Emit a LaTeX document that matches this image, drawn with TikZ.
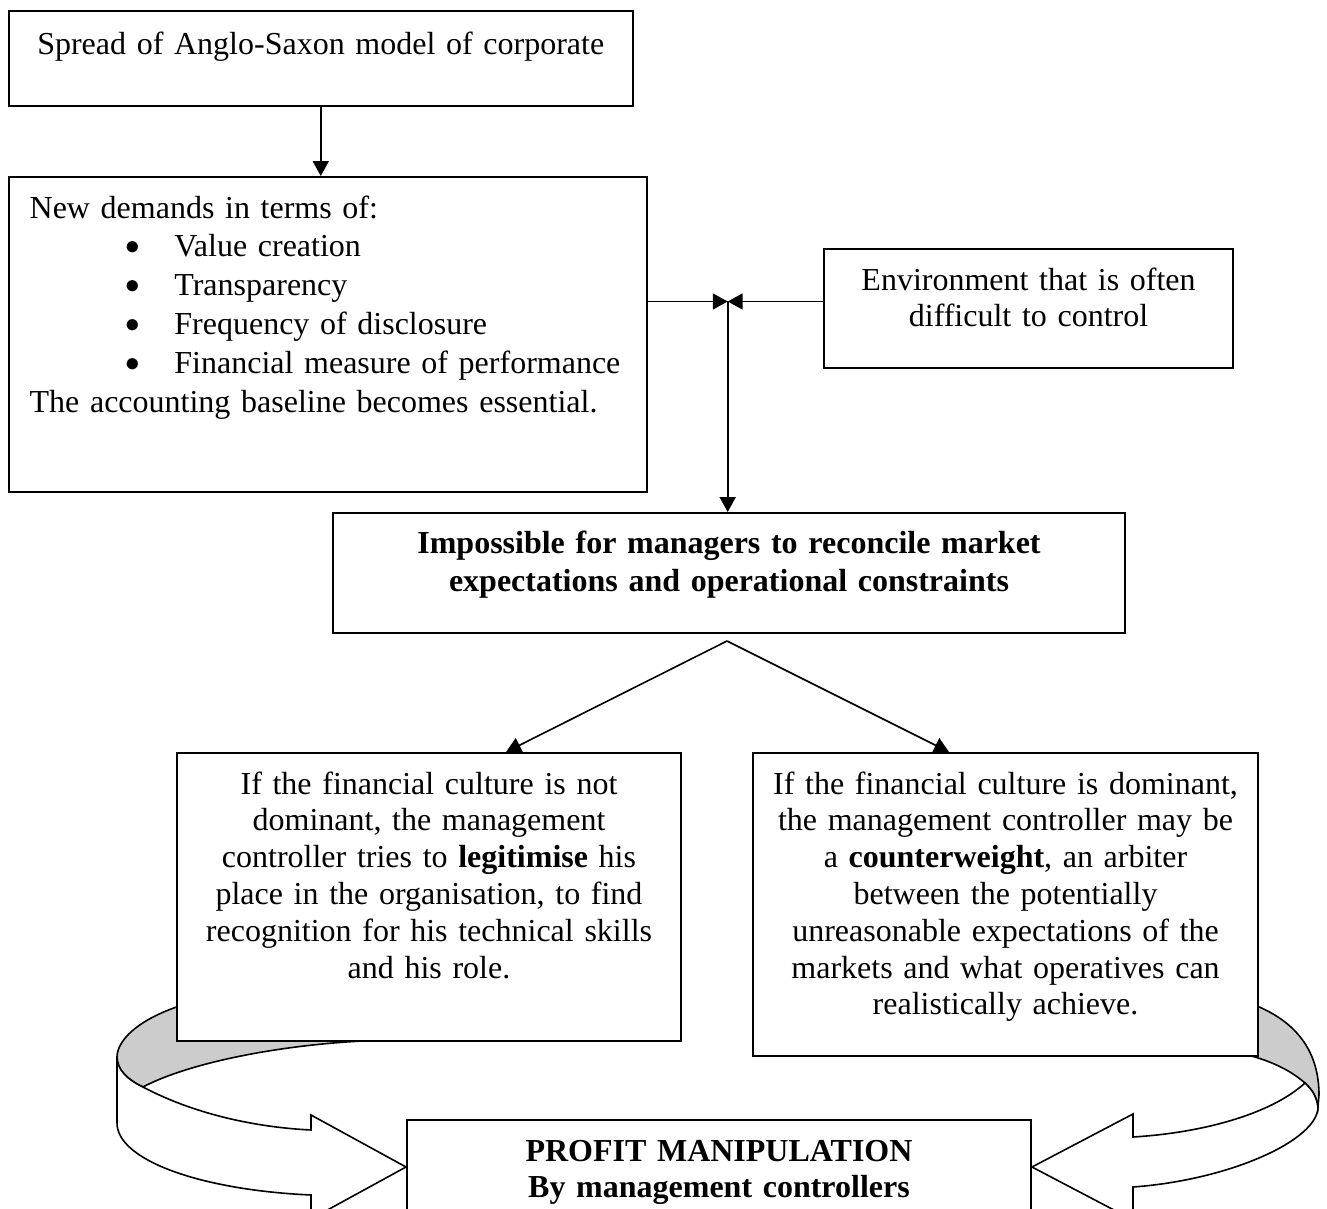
\documentclass[tikz,border=0pt]{standalone}
\usepackage{fontspec}
\setmainfont{Liberation Serif}
\usetikzlibrary{positioning,calc,arrows.meta,backgrounds}
\tikzset{wbox/.style={draw, line width=0.75pt, fill=white, inner sep=0pt, anchor=north west, align=center, font=\fontsize{12pt}{13.8pt}\selectfont}}
\tikzset{arr/.style={draw, line width=0.6pt, -{Triangle[length=5.6pt,width=6pt]}}}
\tikzset{band/.style={draw, line width=0.6pt, fill=white}}
\tikzset{bandshade/.style={band, fill=gray!40}}
\newcommand{\bitem}[1]{\hspace*{35.8pt}\raisebox{0.8pt}{\fontsize{10.5pt}{10.5pt}\selectfont$\bullet$}\hspace*{13pt}#1}

\begin{document}
\begin{tikzpicture}[x=0.375pt,y=-0.375pt]
	\useasboundingbox (0,0) rectangle (1327,1209);
	\node[wbox, text width=234.2pt, text height=16.2pt, text depth=19.45pt] (spread) at (7.5,10)
		{Spread of Anglo-Saxon model of corporate};
	\node[wbox, align=left, inner xsep=7.9pt, text width=223.5pt, text height=15.4pt, text depth=102.7pt,
		font=\fontsize{12pt}{14.6pt}\selectfont] (demands) at (7.6,176)
		{New demands in terms of:\\
		\bitem{Value creation}\\
		\bitem{Transparency}\\
		\bitem{Frequency of disclosure}\\
		\bitem{Financial measure of performance}\\
		The accounting baseline becomes essential.};
	\node[wbox, text width=153.4pt, text height=15.4pt, text depth=29.25pt] (env) at (823,248)
		{Environment that is often\\ difficult to control};
	\node[wbox, text width=297pt, text height=15pt, text depth=30pt,
		font=\fontsize{12pt}{14.5pt}\selectfont\bfseries] (imposs) at (332,512)
		{Impossible for managers to reconcile market\\ expectations and operational constraints};
	\node[wbox, text width=189pt, text height=15.4pt, text depth=92.6pt] (notdom) at (176,752)
		{If the financial culture is not\\ dominant, the management\\ controller tries to \textbf{legitimise} his\\
		place in the organisation, to find\\ recognition for his technical skills\\ and his role.};
	\node[wbox, text width=189.4pt, text height=15.4pt, text depth=98.3pt] (dom) at (752,752)
		{If the financial culture is dominant,\\ the management controller may be\\ a \textbf{counterweight}, an arbiter\\
		between the potentially\\ unreasonable expectations of the\\ markets and what operatives can\\ realistically achieve.};
	\node[wbox, text width=234pt, text height=15.4pt, text depth=37.5pt,
		font=\fontsize{12pt}{13.5pt}\selectfont\bfseries] (profit) at (406,1119)
		{PROFIT MANIPULATION\\ By management controllers};
	%
	\coordinate (join) at (727.7,301.5);
	\coordinate (fork) at ($(imposs.south)+(-2,7)$);
	\draw[arr] (spread.south) -- (spread.south |- demands.north);
	\draw[arr] (demands.east |- join) -- (join);
	\draw[arr] (env.west |- join) -- (join);
	\draw[arr] (join) -- (join |- imposs.north);
	\draw[arr] (fork) -- ([xshift=28.9pt]notdom.north);
	\draw[arr] (fork) -- ([xshift=-21.2pt]dom.north);
	%
	\coordinate (ltip) at ($(profit.north west)+(0,48)$);
	\coordinate (rtip) at ($(profit.north east)+(0,48)$);
	\begin{scope}[on background layer]
		% left curved block arrow
		\draw[bandshade] (200,1000) .. controls (140,1015) and (117,1040) .. (117,1057)
			.. controls (117,1070) and (128,1080) .. (143,1087)
			.. controls (190,1062) and (290,1042) .. (390,1040) -- (390,1000) -- cycle;
		\draw[band] (117,1057) .. controls (117,1070) and (128,1080) .. (143,1087)
			.. controls (190,1112) and (250,1127) .. (311,1130) -- (311,1115) -- (ltip)
			-- (311,1219) -- (311,1195) .. controls (200,1190) and (117,1160) .. (117,1123) -- cycle;
		% right curved block arrow
		\draw[bandshade] (1240,1000) .. controls (1300,1018) and (1319,1055) .. (1319,1095) -- (1318,1107)
			.. controls (1316,1095) and (1312,1090) .. (1305,1083)
			.. controls (1290,1070) and (1270,1060) .. (1240,1053) -- cycle;
		\draw[band] (1305,1083) .. controls (1270,1115) and (1200,1133) .. (1133,1137) -- (1133,1114) -- (rtip)
			-- (1133,1220) -- (1133,1187) .. controls (1230,1180) and (1318,1140) .. (1318,1107)
			.. controls (1316,1095) and (1312,1090) .. (1305,1083) -- cycle;
	\end{scope}
\end{tikzpicture}
\end{document}
